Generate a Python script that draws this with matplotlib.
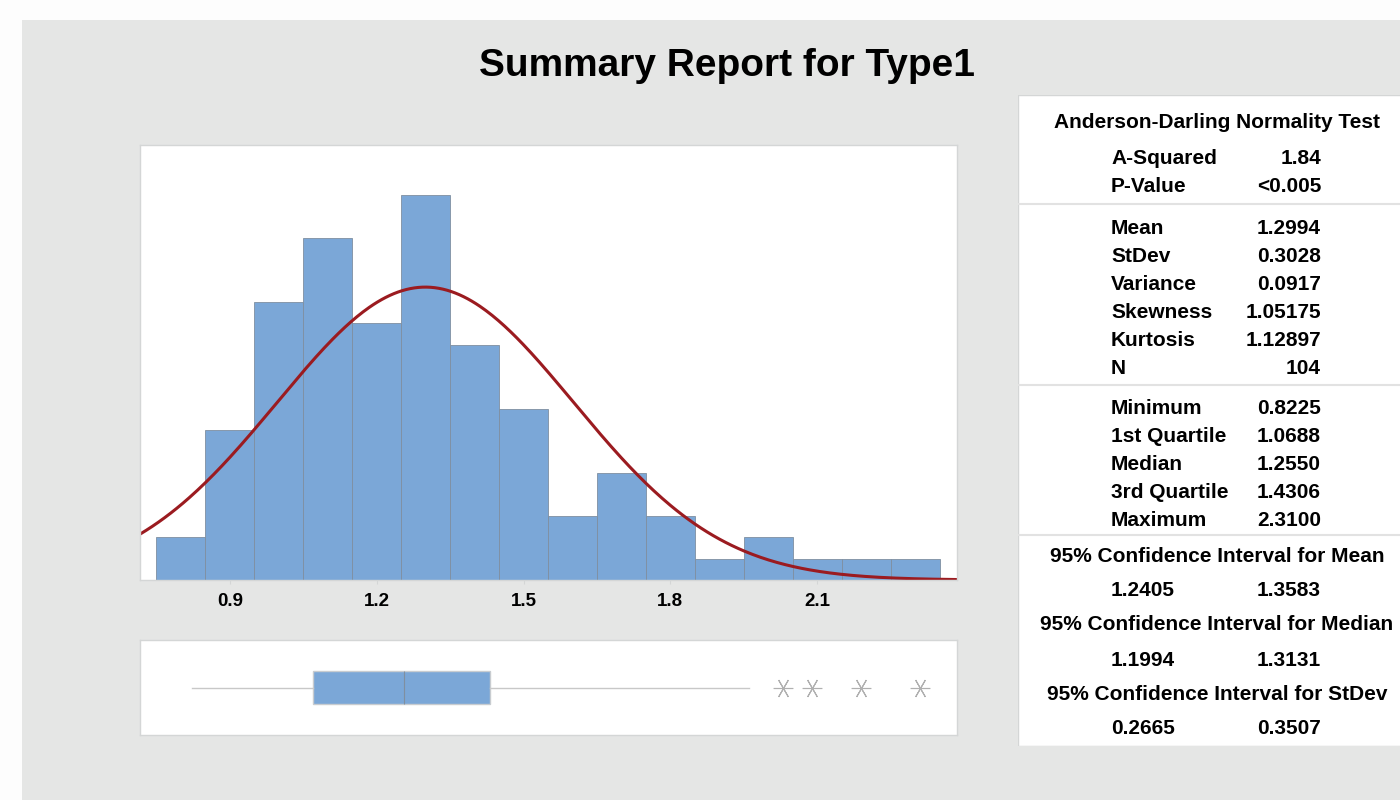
import numpy as np
import matplotlib.pyplot as plt
from matplotlib.patches import Rectangle

plt.rcParams['font.family'] = ['Liberation Sans', 'DejaVu Sans']
plt.rcParams['font.weight'] = 'bold'

# histogram data (bin left edges, counts)
bin_left = [0.75, 0.85, 0.95, 1.05, 1.15, 1.25, 1.35, 1.45,
            1.55, 1.65, 1.75, 1.85, 1.95, 2.05, 2.15, 2.25]
counts = [2, 7, 13, 16, 12, 18, 11, 8, 3, 5, 3, 1, 2, 1, 1, 1]
bin_width = 0.1
ticks = [0.9, 1.2, 1.5, 1.8, 2.1]

# summary statistics
n_obs = 104
mean, stdev = 1.2994, 0.3028
minimum, q1, median, q3, maximum = 0.8225, 1.0688, 1.2550, 1.4306, 2.3100
whisker_hi = 1.96
outliers = [2.03, 2.09, 2.19, 2.31]

ad_labels = ["A-Squared", "P-Value"]
ad_values = ["1.84", "<0.005"]
moment_labels = ["Mean", "StDev", "Variance", "Skewness", "Kurtosis", "N"]
moment_values = ["1.2994", "0.3028", "0.0917", "1.05175", "1.12897", "104"]
quant_labels = ["Minimum", "1st Quartile", "Median", "3rd Quartile", "Maximum"]
quant_values = ["0.8225", "1.0688", "1.2550", "1.4306", "2.3100"]
ci_titles = ["95% Confidence Interval for Mean",
             "95% Confidence Interval for Median",
             "95% Confidence Interval for StDev"]
ci_low = ["1.2405", "1.1994", "0.2665"]
ci_high = ["1.3583", "1.3131", "0.3507"]

BAR = "#7ba7d7"
EDGE = "#7f8fa0"
CURVE = "#9b1b20"
BG = "#e5e6e5"
BORDER = "#d4d6d6"

fig = plt.figure(figsize=(14, 8), dpi=100, facecolor="#fdfdfd")
fig.patches.append(Rectangle((22 / 1400, 0), 1, 780 / 800, transform=fig.transFigure,
                             facecolor=BG, edgecolor="none", zorder=-10))

fig.text(727 / 1400, 1 - 66 / 800, "Summary Report for Type1", ha="center", va="center",
         fontsize=28, fontweight="bold")

xmin, xmax = 0.7163, 2.3857

# histogram with fitted normal
ax = fig.add_axes([140 / 1400, 220 / 800, 817 / 1400, 435 / 800])
ax.bar(bin_left, counts, width=bin_width, align="edge", color=BAR, edgecolor=EDGE, linewidth=0.6)
xs = np.linspace(xmin, xmax, 400)
pdf = n_obs * bin_width / (stdev * np.sqrt(2 * np.pi)) * np.exp(-(xs - mean) ** 2 / (2 * stdev ** 2))
ax.plot(xs, pdf, color=CURVE, linewidth=2.2)
ax.set_xlim(xmin, xmax)
ax.set_ylim(0, 20.35)
ax.set_yticks([])
ax.set_xticks(ticks)
ax.set_xticklabels([str(t) for t in ticks], fontsize=13.5, fontweight="bold")
ax.tick_params(axis="x", length=3, color=BORDER, pad=6)
for s in ax.spines.values():
    s.set_color(BORDER)
    s.set_linewidth(1)

# boxplot
bx = fig.add_axes([140 / 1400, 65 / 800, 817 / 1400, 95 / 800])
stats = [dict(med=median, q1=q1, q3=q3, whislo=minimum, whishi=whisker_hi, fliers=outliers)]
bx.bxp(stats, orientation="horizontal", widths=0.34, showcaps=False, patch_artist=True,
       boxprops=dict(facecolor=BAR, edgecolor="#c8ccd0", linewidth=1),
       medianprops=dict(color=EDGE, linewidth=0.8),
       whiskerprops=dict(color="#c8c8c8", linewidth=1),
       flierprops=dict(marker=(6, 2, 90), markersize=14, markeredgecolor="#b0b0b0",
                       markeredgewidth=0.8, linestyle="none"))
bx.set_xlim(xmin, xmax)
bx.set_ylim(0.5, 1.5)
bx.set_xticks([])
bx.set_yticks([])
for s in bx.spines.values():
    s.set_color(BORDER)
    s.set_linewidth(1)

# statistics table
tx = fig.add_axes([1018 / 1400, 54 / 800, 400 / 1400, 651 / 800])
tx.set_xlim(1018, 1418)
tx.set_ylim(746, 95)
tx.axis("off")
tx.add_patch(Rectangle((1018, 95), 400, 651, facecolor="white", edgecolor=BORDER, linewidth=1))

fs = 15
lx, rx, cx = 1111, 1321, 1217
tx.text(cx, 123, "Anderson-Darling Normality Test", ha="center", va="center", fontsize=fs)
y = 158
for lab, val in zip(ad_labels, ad_values):
    tx.text(lx, y, lab, ha="left", va="center", fontsize=fs)
    tx.text(rx, y, val, ha="right", va="center", fontsize=fs)
    y += 28
tx.plot([1018, 1418], [204, 204], color="#e2e2e2", linewidth=1.5)
y = 228
for lab, val in zip(moment_labels, moment_values):
    tx.text(lx, y, lab, ha="left", va="center", fontsize=fs)
    tx.text(rx, y, val, ha="right", va="center", fontsize=fs)
    y += 28
tx.plot([1018, 1418], [385, 385], color="#e2e2e2", linewidth=1.5)
y = 409
for lab, val in zip(quant_labels, quant_values):
    tx.text(lx, y, lab, ha="left", va="center", fontsize=fs)
    tx.text(rx, y, val, ha="right", va="center", fontsize=fs)
    y += 28
tx.plot([1018, 1418], [535, 535], color="#e2e2e2", linewidth=1.5)
y = 556
for title, lo, hi in zip(ci_titles, ci_low, ci_high):
    tx.text(cx, y, title, ha="center", va="center", fontsize=fs)
    tx.text(lx, y + 35, lo, ha="left", va="center", fontsize=fs)
    tx.text(rx, y + 35, hi, ha="right", va="center", fontsize=fs)
    y += 69

fig.savefig("out.png", dpi=100, facecolor=fig.get_facecolor())
